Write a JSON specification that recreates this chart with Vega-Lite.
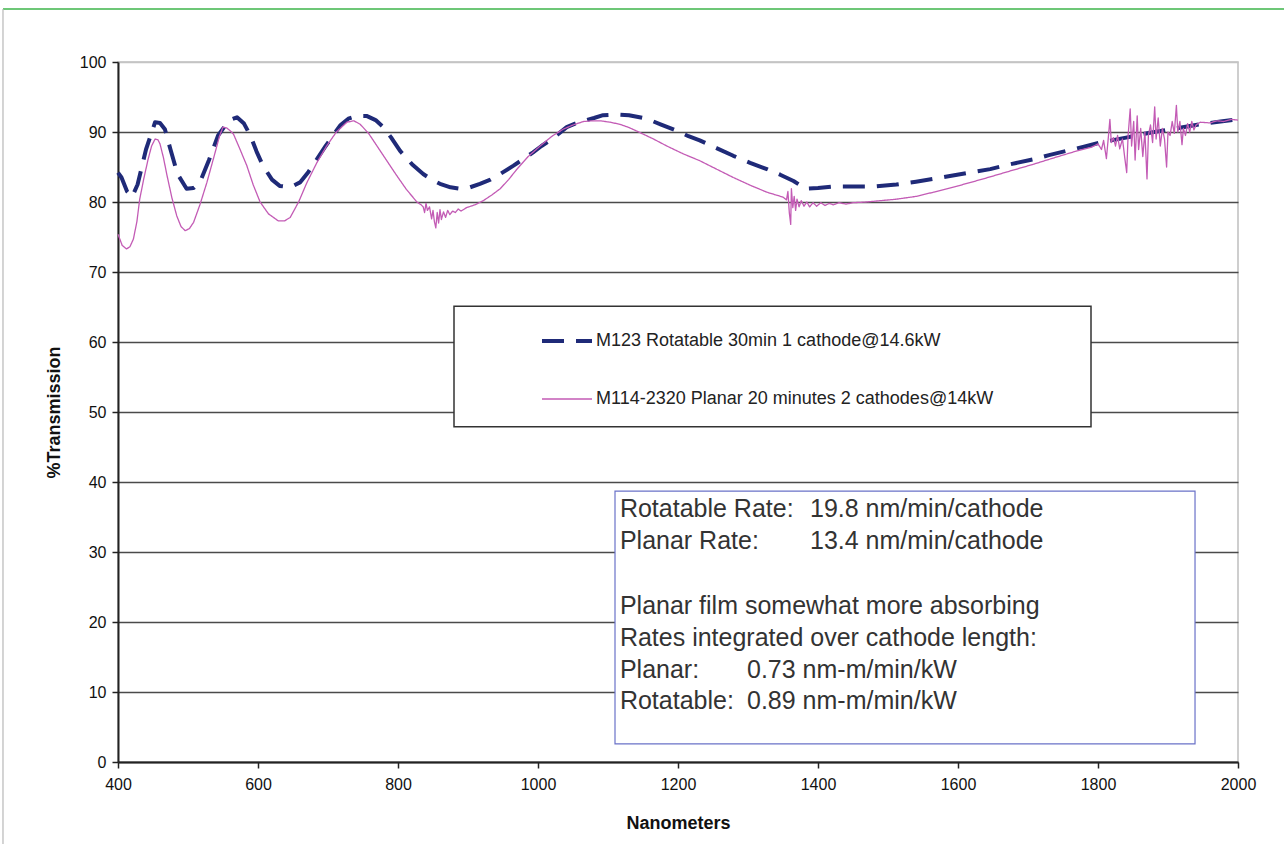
{
  "$schema": "https://vega.github.io/schema/vega-lite/v6.json",
  "width": 1120,
  "height": 700,
  "autosize": {"type": "none"},
  "padding": {"left": 118, "top": 62, "right": 46, "bottom": 82},
  "background": "white",
  "config": {
    "font": "Liberation Sans",
    "view": {"stroke": "#BFBFBF", "strokeWidth": 1.5},
    "axis": {
      "labelFont": "Liberation Sans", "labelFontSize": 16, "labelColor": "#111",
      "titleFont": "Liberation Sans", "titleFontSize": 18, "titleFontWeight": "bold", "titleColor": "#111",
      "domainColor": "#222", "domainWidth": 2, "tickColor": "#222", "tickWidth": 1.5, "tickSize": 6
    }
  },
  "datasets": {
    "spectra": [
      {"series":"M123 Rotatable 30min 1 cathode@14.6kW","nm":400,"T":84.2},
      {"series":"M123 Rotatable 30min 1 cathode@14.6kW","nm":405,"T":83.5},
      {"series":"M123 Rotatable 30min 1 cathode@14.6kW","nm":413,"T":81.5},
      {"series":"M123 Rotatable 30min 1 cathode@14.6kW","nm":420,"T":80.7},
      {"series":"M123 Rotatable 30min 1 cathode@14.6kW","nm":428,"T":82.5},
      {"series":"M123 Rotatable 30min 1 cathode@14.6kW","nm":440,"T":87.5},
      {"series":"M123 Rotatable 30min 1 cathode@14.6kW","nm":453,"T":91.4},
      {"series":"M123 Rotatable 30min 1 cathode@14.6kW","nm":460,"T":91.3},
      {"series":"M123 Rotatable 30min 1 cathode@14.6kW","nm":467,"T":90.4},
      {"series":"M123 Rotatable 30min 1 cathode@14.6kW","nm":475,"T":87.5},
      {"series":"M123 Rotatable 30min 1 cathode@14.6kW","nm":485,"T":84.0},
      {"series":"M123 Rotatable 30min 1 cathode@14.6kW","nm":498,"T":81.9},
      {"series":"M123 Rotatable 30min 1 cathode@14.6kW","nm":508,"T":82.0},
      {"series":"M123 Rotatable 30min 1 cathode@14.6kW","nm":517,"T":82.8},
      {"series":"M123 Rotatable 30min 1 cathode@14.6kW","nm":530,"T":86.0},
      {"series":"M123 Rotatable 30min 1 cathode@14.6kW","nm":543,"T":89.5},
      {"series":"M123 Rotatable 30min 1 cathode@14.6kW","nm":553,"T":90.9},
      {"series":"M123 Rotatable 30min 1 cathode@14.6kW","nm":562,"T":91.8},
      {"series":"M123 Rotatable 30min 1 cathode@14.6kW","nm":570,"T":92.1},
      {"series":"M123 Rotatable 30min 1 cathode@14.6kW","nm":580,"T":91.2},
      {"series":"M123 Rotatable 30min 1 cathode@14.6kW","nm":589,"T":89.5},
      {"series":"M123 Rotatable 30min 1 cathode@14.6kW","nm":598,"T":87.2},
      {"series":"M123 Rotatable 30min 1 cathode@14.6kW","nm":607,"T":85.2},
      {"series":"M123 Rotatable 30min 1 cathode@14.6kW","nm":620,"T":83.2},
      {"series":"M123 Rotatable 30min 1 cathode@14.6kW","nm":631,"T":82.3},
      {"series":"M123 Rotatable 30min 1 cathode@14.6kW","nm":646,"T":82.1},
      {"series":"M123 Rotatable 30min 1 cathode@14.6kW","nm":660,"T":82.8},
      {"series":"M123 Rotatable 30min 1 cathode@14.6kW","nm":672,"T":84.3},
      {"series":"M123 Rotatable 30min 1 cathode@14.6kW","nm":684,"T":86.1},
      {"series":"M123 Rotatable 30min 1 cathode@14.6kW","nm":696,"T":87.9},
      {"series":"M123 Rotatable 30min 1 cathode@14.6kW","nm":707,"T":89.5},
      {"series":"M123 Rotatable 30min 1 cathode@14.6kW","nm":718,"T":91.0},
      {"series":"M123 Rotatable 30min 1 cathode@14.6kW","nm":729,"T":91.9},
      {"series":"M123 Rotatable 30min 1 cathode@14.6kW","nm":742,"T":92.3},
      {"series":"M123 Rotatable 30min 1 cathode@14.6kW","nm":755,"T":92.3},
      {"series":"M123 Rotatable 30min 1 cathode@14.6kW","nm":768,"T":91.7},
      {"series":"M123 Rotatable 30min 1 cathode@14.6kW","nm":779,"T":90.7},
      {"series":"M123 Rotatable 30min 1 cathode@14.6kW","nm":791,"T":89.1},
      {"series":"M123 Rotatable 30min 1 cathode@14.6kW","nm":803,"T":87.3},
      {"series":"M123 Rotatable 30min 1 cathode@14.6kW","nm":820,"T":85.4},
      {"series":"M123 Rotatable 30min 1 cathode@14.6kW","nm":836,"T":84.0},
      {"series":"M123 Rotatable 30min 1 cathode@14.6kW","nm":848,"T":83.2},
      {"series":"M123 Rotatable 30min 1 cathode@14.6kW","nm":860,"T":82.6},
      {"series":"M123 Rotatable 30min 1 cathode@14.6kW","nm":875,"T":82.1},
      {"series":"M123 Rotatable 30min 1 cathode@14.6kW","nm":889,"T":81.9},
      {"series":"M123 Rotatable 30min 1 cathode@14.6kW","nm":903,"T":82.1},
      {"series":"M123 Rotatable 30min 1 cathode@14.6kW","nm":917,"T":82.6},
      {"series":"M123 Rotatable 30min 1 cathode@14.6kW","nm":932,"T":83.2},
      {"series":"M123 Rotatable 30min 1 cathode@14.6kW","nm":946,"T":84.0},
      {"series":"M123 Rotatable 30min 1 cathode@14.6kW","nm":965,"T":85.2},
      {"series":"M123 Rotatable 30min 1 cathode@14.6kW","nm":980,"T":86.2},
      {"series":"M123 Rotatable 30min 1 cathode@14.6kW","nm":993,"T":87.1},
      {"series":"M123 Rotatable 30min 1 cathode@14.6kW","nm":1005,"T":88.0},
      {"series":"M123 Rotatable 30min 1 cathode@14.6kW","nm":1017,"T":88.8},
      {"series":"M123 Rotatable 30min 1 cathode@14.6kW","nm":1030,"T":89.8},
      {"series":"M123 Rotatable 30min 1 cathode@14.6kW","nm":1041,"T":90.7},
      {"series":"M123 Rotatable 30min 1 cathode@14.6kW","nm":1053,"T":91.2},
      {"series":"M123 Rotatable 30min 1 cathode@14.6kW","nm":1065,"T":91.6},
      {"series":"M123 Rotatable 30min 1 cathode@14.6kW","nm":1080,"T":92.0},
      {"series":"M123 Rotatable 30min 1 cathode@14.6kW","nm":1093,"T":92.4},
      {"series":"M123 Rotatable 30min 1 cathode@14.6kW","nm":1112,"T":92.5},
      {"series":"M123 Rotatable 30min 1 cathode@14.6kW","nm":1130,"T":92.4},
      {"series":"M123 Rotatable 30min 1 cathode@14.6kW","nm":1155,"T":91.9},
      {"series":"M123 Rotatable 30min 1 cathode@14.6kW","nm":1175,"T":91.1},
      {"series":"M123 Rotatable 30min 1 cathode@14.6kW","nm":1198,"T":90.2},
      {"series":"M123 Rotatable 30min 1 cathode@14.6kW","nm":1215,"T":89.4},
      {"series":"M123 Rotatable 30min 1 cathode@14.6kW","nm":1231,"T":88.8},
      {"series":"M123 Rotatable 30min 1 cathode@14.6kW","nm":1255,"T":87.7},
      {"series":"M123 Rotatable 30min 1 cathode@14.6kW","nm":1279,"T":86.6},
      {"series":"M123 Rotatable 30min 1 cathode@14.6kW","nm":1303,"T":85.6},
      {"series":"M123 Rotatable 30min 1 cathode@14.6kW","nm":1327,"T":84.7},
      {"series":"M123 Rotatable 30min 1 cathode@14.6kW","nm":1346,"T":83.9},
      {"series":"M123 Rotatable 30min 1 cathode@14.6kW","nm":1365,"T":83.0},
      {"series":"M123 Rotatable 30min 1 cathode@14.6kW","nm":1373,"T":82.5},
      {"series":"M123 Rotatable 30min 1 cathode@14.6kW","nm":1381,"T":81.9},
      {"series":"M123 Rotatable 30min 1 cathode@14.6kW","nm":1400,"T":82.0},
      {"series":"M123 Rotatable 30min 1 cathode@14.6kW","nm":1422,"T":82.2},
      {"series":"M123 Rotatable 30min 1 cathode@14.6kW","nm":1450,"T":82.2},
      {"series":"M123 Rotatable 30min 1 cathode@14.6kW","nm":1479,"T":82.2},
      {"series":"M123 Rotatable 30min 1 cathode@14.6kW","nm":1512,"T":82.5},
      {"series":"M123 Rotatable 30min 1 cathode@14.6kW","nm":1540,"T":82.9},
      {"series":"M123 Rotatable 30min 1 cathode@14.6kW","nm":1565,"T":83.3},
      {"series":"M123 Rotatable 30min 1 cathode@14.6kW","nm":1605,"T":84.0},
      {"series":"M123 Rotatable 30min 1 cathode@14.6kW","nm":1646,"T":84.7},
      {"series":"M123 Rotatable 30min 1 cathode@14.6kW","nm":1675,"T":85.4},
      {"series":"M123 Rotatable 30min 1 cathode@14.6kW","nm":1708,"T":86.1},
      {"series":"M123 Rotatable 30min 1 cathode@14.6kW","nm":1730,"T":86.7},
      {"series":"M123 Rotatable 30min 1 cathode@14.6kW","nm":1755,"T":87.3},
      {"series":"M123 Rotatable 30min 1 cathode@14.6kW","nm":1780,"T":87.9},
      {"series":"M123 Rotatable 30min 1 cathode@14.6kW","nm":1803,"T":88.5},
      {"series":"M123 Rotatable 30min 1 cathode@14.6kW","nm":1840,"T":89.2},
      {"series":"M123 Rotatable 30min 1 cathode@14.6kW","nm":1874,"T":89.9},
      {"series":"M123 Rotatable 30min 1 cathode@14.6kW","nm":1910,"T":90.5},
      {"series":"M123 Rotatable 30min 1 cathode@14.6kW","nm":1946,"T":91.1},
      {"series":"M123 Rotatable 30min 1 cathode@14.6kW","nm":1975,"T":91.5},
      {"series":"M123 Rotatable 30min 1 cathode@14.6kW","nm":2000,"T":91.8},
      {"series":"M114-2320 Planar 20 minutes 2 cathodes@14kW","nm":400,"T":75.4},
      {"series":"M114-2320 Planar 20 minutes 2 cathodes@14kW","nm":406,"T":73.8},
      {"series":"M114-2320 Planar 20 minutes 2 cathodes@14kW","nm":412,"T":73.3},
      {"series":"M114-2320 Planar 20 minutes 2 cathodes@14kW","nm":417,"T":73.6},
      {"series":"M114-2320 Planar 20 minutes 2 cathodes@14kW","nm":422,"T":74.7},
      {"series":"M114-2320 Planar 20 minutes 2 cathodes@14kW","nm":427,"T":77.2},
      {"series":"M114-2320 Planar 20 minutes 2 cathodes@14kW","nm":431,"T":80.4},
      {"series":"M114-2320 Planar 20 minutes 2 cathodes@14kW","nm":437,"T":83.4},
      {"series":"M114-2320 Planar 20 minutes 2 cathodes@14kW","nm":443,"T":86.1},
      {"series":"M114-2320 Planar 20 minutes 2 cathodes@14kW","nm":448,"T":88.0},
      {"series":"M114-2320 Planar 20 minutes 2 cathodes@14kW","nm":453,"T":89.0},
      {"series":"M114-2320 Planar 20 minutes 2 cathodes@14kW","nm":457,"T":88.9},
      {"series":"M114-2320 Planar 20 minutes 2 cathodes@14kW","nm":460,"T":88.3},
      {"series":"M114-2320 Planar 20 minutes 2 cathodes@14kW","nm":465,"T":86.3},
      {"series":"M114-2320 Planar 20 minutes 2 cathodes@14kW","nm":470,"T":83.8},
      {"series":"M114-2320 Planar 20 minutes 2 cathodes@14kW","nm":477,"T":80.6},
      {"series":"M114-2320 Planar 20 minutes 2 cathodes@14kW","nm":484,"T":78.0},
      {"series":"M114-2320 Planar 20 minutes 2 cathodes@14kW","nm":490,"T":76.5},
      {"series":"M114-2320 Planar 20 minutes 2 cathodes@14kW","nm":496,"T":75.9},
      {"series":"M114-2320 Planar 20 minutes 2 cathodes@14kW","nm":502,"T":76.2},
      {"series":"M114-2320 Planar 20 minutes 2 cathodes@14kW","nm":508,"T":77.1},
      {"series":"M114-2320 Planar 20 minutes 2 cathodes@14kW","nm":517,"T":79.6},
      {"series":"M114-2320 Planar 20 minutes 2 cathodes@14kW","nm":527,"T":82.8},
      {"series":"M114-2320 Planar 20 minutes 2 cathodes@14kW","nm":538,"T":86.8},
      {"series":"M114-2320 Planar 20 minutes 2 cathodes@14kW","nm":545,"T":89.4},
      {"series":"M114-2320 Planar 20 minutes 2 cathodes@14kW","nm":550,"T":90.7},
      {"series":"M114-2320 Planar 20 minutes 2 cathodes@14kW","nm":555,"T":90.6},
      {"series":"M114-2320 Planar 20 minutes 2 cathodes@14kW","nm":560,"T":90.2},
      {"series":"M114-2320 Planar 20 minutes 2 cathodes@14kW","nm":565,"T":89.7},
      {"series":"M114-2320 Planar 20 minutes 2 cathodes@14kW","nm":574,"T":87.6},
      {"series":"M114-2320 Planar 20 minutes 2 cathodes@14kW","nm":584,"T":85.2},
      {"series":"M114-2320 Planar 20 minutes 2 cathodes@14kW","nm":593,"T":82.5},
      {"series":"M114-2320 Planar 20 minutes 2 cathodes@14kW","nm":603,"T":80.0},
      {"series":"M114-2320 Planar 20 minutes 2 cathodes@14kW","nm":615,"T":78.3},
      {"series":"M114-2320 Planar 20 minutes 2 cathodes@14kW","nm":629,"T":77.3},
      {"series":"M114-2320 Planar 20 minutes 2 cathodes@14kW","nm":638,"T":77.3},
      {"series":"M114-2320 Planar 20 minutes 2 cathodes@14kW","nm":646,"T":77.8},
      {"series":"M114-2320 Planar 20 minutes 2 cathodes@14kW","nm":658,"T":80.0},
      {"series":"M114-2320 Planar 20 minutes 2 cathodes@14kW","nm":670,"T":82.8},
      {"series":"M114-2320 Planar 20 minutes 2 cathodes@14kW","nm":684,"T":85.6},
      {"series":"M114-2320 Planar 20 minutes 2 cathodes@14kW","nm":698,"T":88.0},
      {"series":"M114-2320 Planar 20 minutes 2 cathodes@14kW","nm":712,"T":90.0},
      {"series":"M114-2320 Planar 20 minutes 2 cathodes@14kW","nm":727,"T":91.4},
      {"series":"M114-2320 Planar 20 minutes 2 cathodes@14kW","nm":737,"T":91.6},
      {"series":"M114-2320 Planar 20 minutes 2 cathodes@14kW","nm":746,"T":91.1},
      {"series":"M114-2320 Planar 20 minutes 2 cathodes@14kW","nm":758,"T":89.8},
      {"series":"M114-2320 Planar 20 minutes 2 cathodes@14kW","nm":770,"T":88.0},
      {"series":"M114-2320 Planar 20 minutes 2 cathodes@14kW","nm":784,"T":85.9},
      {"series":"M114-2320 Planar 20 minutes 2 cathodes@14kW","nm":798,"T":83.8},
      {"series":"M114-2320 Planar 20 minutes 2 cathodes@14kW","nm":812,"T":81.8},
      {"series":"M114-2320 Planar 20 minutes 2 cathodes@14kW","nm":827,"T":80.0},
      {"series":"M114-2320 Planar 20 minutes 2 cathodes@14kW","nm":833,"T":79.6},
      {"series":"M114-2320 Planar 20 minutes 2 cathodes@14kW","nm":836,"T":79.3},
      {"series":"M114-2320 Planar 20 minutes 2 cathodes@14kW","nm":838,"T":78.5},
      {"series":"M114-2320 Planar 20 minutes 2 cathodes@14kW","nm":840,"T":79.8},
      {"series":"M114-2320 Planar 20 minutes 2 cathodes@14kW","nm":842,"T":78.8},
      {"series":"M114-2320 Planar 20 minutes 2 cathodes@14kW","nm":845,"T":79.3},
      {"series":"M114-2320 Planar 20 minutes 2 cathodes@14kW","nm":848,"T":77.6},
      {"series":"M114-2320 Planar 20 minutes 2 cathodes@14kW","nm":850,"T":78.8},
      {"series":"M114-2320 Planar 20 minutes 2 cathodes@14kW","nm":852,"T":77.2},
      {"series":"M114-2320 Planar 20 minutes 2 cathodes@14kW","nm":854,"T":76.3},
      {"series":"M114-2320 Planar 20 minutes 2 cathodes@14kW","nm":856,"T":78.5},
      {"series":"M114-2320 Planar 20 minutes 2 cathodes@14kW","nm":858,"T":77.0},
      {"series":"M114-2320 Planar 20 minutes 2 cathodes@14kW","nm":860,"T":78.9},
      {"series":"M114-2320 Planar 20 minutes 2 cathodes@14kW","nm":862,"T":77.5},
      {"series":"M114-2320 Planar 20 minutes 2 cathodes@14kW","nm":865,"T":78.6},
      {"series":"M114-2320 Planar 20 minutes 2 cathodes@14kW","nm":868,"T":77.8},
      {"series":"M114-2320 Planar 20 minutes 2 cathodes@14kW","nm":871,"T":78.8},
      {"series":"M114-2320 Planar 20 minutes 2 cathodes@14kW","nm":874,"T":78.2},
      {"series":"M114-2320 Planar 20 minutes 2 cathodes@14kW","nm":878,"T":78.7},
      {"series":"M114-2320 Planar 20 minutes 2 cathodes@14kW","nm":882,"T":78.5},
      {"series":"M114-2320 Planar 20 minutes 2 cathodes@14kW","nm":886,"T":79.0},
      {"series":"M114-2320 Planar 20 minutes 2 cathodes@14kW","nm":890,"T":78.7},
      {"series":"M114-2320 Planar 20 minutes 2 cathodes@14kW","nm":898,"T":79.2},
      {"series":"M114-2320 Planar 20 minutes 2 cathodes@14kW","nm":910,"T":79.6},
      {"series":"M114-2320 Planar 20 minutes 2 cathodes@14kW","nm":922,"T":80.2},
      {"series":"M114-2320 Planar 20 minutes 2 cathodes@14kW","nm":934,"T":81.0},
      {"series":"M114-2320 Planar 20 minutes 2 cathodes@14kW","nm":946,"T":81.9},
      {"series":"M114-2320 Planar 20 minutes 2 cathodes@14kW","nm":958,"T":83.2},
      {"series":"M114-2320 Planar 20 minutes 2 cathodes@14kW","nm":970,"T":84.7},
      {"series":"M114-2320 Planar 20 minutes 2 cathodes@14kW","nm":986,"T":86.5},
      {"series":"M114-2320 Planar 20 minutes 2 cathodes@14kW","nm":1003,"T":88.0},
      {"series":"M114-2320 Planar 20 minutes 2 cathodes@14kW","nm":1020,"T":89.4},
      {"series":"M114-2320 Planar 20 minutes 2 cathodes@14kW","nm":1036,"T":90.4},
      {"series":"M114-2320 Planar 20 minutes 2 cathodes@14kW","nm":1050,"T":91.0},
      {"series":"M114-2320 Planar 20 minutes 2 cathodes@14kW","nm":1065,"T":91.5},
      {"series":"M114-2320 Planar 20 minutes 2 cathodes@14kW","nm":1077,"T":91.6},
      {"series":"M114-2320 Planar 20 minutes 2 cathodes@14kW","nm":1089,"T":91.6},
      {"series":"M114-2320 Planar 20 minutes 2 cathodes@14kW","nm":1103,"T":91.4},
      {"series":"M114-2320 Planar 20 minutes 2 cathodes@14kW","nm":1117,"T":91.1},
      {"series":"M114-2320 Planar 20 minutes 2 cathodes@14kW","nm":1131,"T":90.6},
      {"series":"M114-2320 Planar 20 minutes 2 cathodes@14kW","nm":1146,"T":89.9},
      {"series":"M114-2320 Planar 20 minutes 2 cathodes@14kW","nm":1165,"T":89.0},
      {"series":"M114-2320 Planar 20 minutes 2 cathodes@14kW","nm":1184,"T":88.0},
      {"series":"M114-2320 Planar 20 minutes 2 cathodes@14kW","nm":1207,"T":86.9},
      {"series":"M114-2320 Planar 20 minutes 2 cathodes@14kW","nm":1231,"T":85.9},
      {"series":"M114-2320 Planar 20 minutes 2 cathodes@14kW","nm":1255,"T":84.7},
      {"series":"M114-2320 Planar 20 minutes 2 cathodes@14kW","nm":1279,"T":83.5},
      {"series":"M114-2320 Planar 20 minutes 2 cathodes@14kW","nm":1303,"T":82.4},
      {"series":"M114-2320 Planar 20 minutes 2 cathodes@14kW","nm":1327,"T":81.4},
      {"series":"M114-2320 Planar 20 minutes 2 cathodes@14kW","nm":1340,"T":81.0},
      {"series":"M114-2320 Planar 20 minutes 2 cathodes@14kW","nm":1350,"T":80.7},
      {"series":"M114-2320 Planar 20 minutes 2 cathodes@14kW","nm":1355,"T":80.3},
      {"series":"M114-2320 Planar 20 minutes 2 cathodes@14kW","nm":1357,"T":81.5},
      {"series":"M114-2320 Planar 20 minutes 2 cathodes@14kW","nm":1359,"T":78.5},
      {"series":"M114-2320 Planar 20 minutes 2 cathodes@14kW","nm":1361,"T":76.8},
      {"series":"M114-2320 Planar 20 minutes 2 cathodes@14kW","nm":1362,"T":81.9},
      {"series":"M114-2320 Planar 20 minutes 2 cathodes@14kW","nm":1364,"T":79.2},
      {"series":"M114-2320 Planar 20 minutes 2 cathodes@14kW","nm":1366,"T":80.8},
      {"series":"M114-2320 Planar 20 minutes 2 cathodes@14kW","nm":1368,"T":78.8},
      {"series":"M114-2320 Planar 20 minutes 2 cathodes@14kW","nm":1370,"T":80.4},
      {"series":"M114-2320 Planar 20 minutes 2 cathodes@14kW","nm":1373,"T":79.3},
      {"series":"M114-2320 Planar 20 minutes 2 cathodes@14kW","nm":1376,"T":80.2},
      {"series":"M114-2320 Planar 20 minutes 2 cathodes@14kW","nm":1380,"T":79.4},
      {"series":"M114-2320 Planar 20 minutes 2 cathodes@14kW","nm":1384,"T":80.0},
      {"series":"M114-2320 Planar 20 minutes 2 cathodes@14kW","nm":1388,"T":79.3},
      {"series":"M114-2320 Planar 20 minutes 2 cathodes@14kW","nm":1393,"T":79.9},
      {"series":"M114-2320 Planar 20 minutes 2 cathodes@14kW","nm":1398,"T":79.4},
      {"series":"M114-2320 Planar 20 minutes 2 cathodes@14kW","nm":1404,"T":79.9},
      {"series":"M114-2320 Planar 20 minutes 2 cathodes@14kW","nm":1410,"T":79.5},
      {"series":"M114-2320 Planar 20 minutes 2 cathodes@14kW","nm":1416,"T":79.8},
      {"series":"M114-2320 Planar 20 minutes 2 cathodes@14kW","nm":1422,"T":79.6},
      {"series":"M114-2320 Planar 20 minutes 2 cathodes@14kW","nm":1430,"T":79.9},
      {"series":"M114-2320 Planar 20 minutes 2 cathodes@14kW","nm":1440,"T":79.7},
      {"series":"M114-2320 Planar 20 minutes 2 cathodes@14kW","nm":1450,"T":79.9},
      {"series":"M114-2320 Planar 20 minutes 2 cathodes@14kW","nm":1469,"T":80.0},
      {"series":"M114-2320 Planar 20 minutes 2 cathodes@14kW","nm":1490,"T":80.2},
      {"series":"M114-2320 Planar 20 minutes 2 cathodes@14kW","nm":1512,"T":80.4},
      {"series":"M114-2320 Planar 20 minutes 2 cathodes@14kW","nm":1540,"T":80.8},
      {"series":"M114-2320 Planar 20 minutes 2 cathodes@14kW","nm":1565,"T":81.4},
      {"series":"M114-2320 Planar 20 minutes 2 cathodes@14kW","nm":1600,"T":82.3},
      {"series":"M114-2320 Planar 20 minutes 2 cathodes@14kW","nm":1636,"T":83.3},
      {"series":"M114-2320 Planar 20 minutes 2 cathodes@14kW","nm":1670,"T":84.3},
      {"series":"M114-2320 Planar 20 minutes 2 cathodes@14kW","nm":1708,"T":85.4},
      {"series":"M114-2320 Planar 20 minutes 2 cathodes@14kW","nm":1740,"T":86.4},
      {"series":"M114-2320 Planar 20 minutes 2 cathodes@14kW","nm":1770,"T":87.3},
      {"series":"M114-2320 Planar 20 minutes 2 cathodes@14kW","nm":1790,"T":87.8},
      {"series":"M114-2320 Planar 20 minutes 2 cathodes@14kW","nm":1800,"T":88.3},
      {"series":"M114-2320 Planar 20 minutes 2 cathodes@14kW","nm":1805,"T":87.5},
      {"series":"M114-2320 Planar 20 minutes 2 cathodes@14kW","nm":1808,"T":88.8},
      {"series":"M114-2320 Planar 20 minutes 2 cathodes@14kW","nm":1812,"T":86.2},
      {"series":"M114-2320 Planar 20 minutes 2 cathodes@14kW","nm":1815,"T":89.5},
      {"series":"M114-2320 Planar 20 minutes 2 cathodes@14kW","nm":1817,"T":91.8},
      {"series":"M114-2320 Planar 20 minutes 2 cathodes@14kW","nm":1819,"T":88.5},
      {"series":"M114-2320 Planar 20 minutes 2 cathodes@14kW","nm":1822,"T":89.2},
      {"series":"M114-2320 Planar 20 minutes 2 cathodes@14kW","nm":1825,"T":88.0},
      {"series":"M114-2320 Planar 20 minutes 2 cathodes@14kW","nm":1828,"T":89.5},
      {"series":"M114-2320 Planar 20 minutes 2 cathodes@14kW","nm":1831,"T":87.6},
      {"series":"M114-2320 Planar 20 minutes 2 cathodes@14kW","nm":1835,"T":89.0},
      {"series":"M114-2320 Planar 20 minutes 2 cathodes@14kW","nm":1838,"T":86.5},
      {"series":"M114-2320 Planar 20 minutes 2 cathodes@14kW","nm":1841,"T":84.2},
      {"series":"M114-2320 Planar 20 minutes 2 cathodes@14kW","nm":1843,"T":89.5},
      {"series":"M114-2320 Planar 20 minutes 2 cathodes@14kW","nm":1846,"T":93.3},
      {"series":"M114-2320 Planar 20 minutes 2 cathodes@14kW","nm":1848,"T":88.0},
      {"series":"M114-2320 Planar 20 minutes 2 cathodes@14kW","nm":1851,"T":91.5},
      {"series":"M114-2320 Planar 20 minutes 2 cathodes@14kW","nm":1853,"T":86.0},
      {"series":"M114-2320 Planar 20 minutes 2 cathodes@14kW","nm":1856,"T":92.3},
      {"series":"M114-2320 Planar 20 minutes 2 cathodes@14kW","nm":1858,"T":87.5},
      {"series":"M114-2320 Planar 20 minutes 2 cathodes@14kW","nm":1861,"T":90.5},
      {"series":"M114-2320 Planar 20 minutes 2 cathodes@14kW","nm":1864,"T":86.5},
      {"series":"M114-2320 Planar 20 minutes 2 cathodes@14kW","nm":1867,"T":90.0},
      {"series":"M114-2320 Planar 20 minutes 2 cathodes@14kW","nm":1870,"T":83.3},
      {"series":"M114-2320 Planar 20 minutes 2 cathodes@14kW","nm":1872,"T":89.5},
      {"series":"M114-2320 Planar 20 minutes 2 cathodes@14kW","nm":1875,"T":91.0},
      {"series":"M114-2320 Planar 20 minutes 2 cathodes@14kW","nm":1878,"T":88.5},
      {"series":"M114-2320 Planar 20 minutes 2 cathodes@14kW","nm":1881,"T":93.6},
      {"series":"M114-2320 Planar 20 minutes 2 cathodes@14kW","nm":1883,"T":89.0},
      {"series":"M114-2320 Planar 20 minutes 2 cathodes@14kW","nm":1886,"T":92.0},
      {"series":"M114-2320 Planar 20 minutes 2 cathodes@14kW","nm":1889,"T":88.0},
      {"series":"M114-2320 Planar 20 minutes 2 cathodes@14kW","nm":1892,"T":90.5},
      {"series":"M114-2320 Planar 20 minutes 2 cathodes@14kW","nm":1895,"T":89.0},
      {"series":"M114-2320 Planar 20 minutes 2 cathodes@14kW","nm":1898,"T":85.0},
      {"series":"M114-2320 Planar 20 minutes 2 cathodes@14kW","nm":1900,"T":90.0},
      {"series":"M114-2320 Planar 20 minutes 2 cathodes@14kW","nm":1903,"T":89.5},
      {"series":"M114-2320 Planar 20 minutes 2 cathodes@14kW","nm":1906,"T":91.5},
      {"series":"M114-2320 Planar 20 minutes 2 cathodes@14kW","nm":1909,"T":89.8},
      {"series":"M114-2320 Planar 20 minutes 2 cathodes@14kW","nm":1912,"T":93.8},
      {"series":"M114-2320 Planar 20 minutes 2 cathodes@14kW","nm":1914,"T":90.0},
      {"series":"M114-2320 Planar 20 minutes 2 cathodes@14kW","nm":1917,"T":91.5},
      {"series":"M114-2320 Planar 20 minutes 2 cathodes@14kW","nm":1920,"T":88.2},
      {"series":"M114-2320 Planar 20 minutes 2 cathodes@14kW","nm":1922,"T":90.5},
      {"series":"M114-2320 Planar 20 minutes 2 cathodes@14kW","nm":1925,"T":89.5},
      {"series":"M114-2320 Planar 20 minutes 2 cathodes@14kW","nm":1928,"T":91.2},
      {"series":"M114-2320 Planar 20 minutes 2 cathodes@14kW","nm":1931,"T":90.0},
      {"series":"M114-2320 Planar 20 minutes 2 cathodes@14kW","nm":1934,"T":91.5},
      {"series":"M114-2320 Planar 20 minutes 2 cathodes@14kW","nm":1937,"T":90.3},
      {"series":"M114-2320 Planar 20 minutes 2 cathodes@14kW","nm":1940,"T":91.0},
      {"series":"M114-2320 Planar 20 minutes 2 cathodes@14kW","nm":1946,"T":91.4},
      {"series":"M114-2320 Planar 20 minutes 2 cathodes@14kW","nm":1960,"T":91.3},
      {"series":"M114-2320 Planar 20 minutes 2 cathodes@14kW","nm":1970,"T":91.6},
      {"series":"M114-2320 Planar 20 minutes 2 cathodes@14kW","nm":1980,"T":91.5},
      {"series":"M114-2320 Planar 20 minutes 2 cathodes@14kW","nm":1990,"T":91.8},
      {"series":"M114-2320 Planar 20 minutes 2 cathodes@14kW","nm":2000,"T":91.7}
    ]
  },
  "layer": [
    {
      "data": {"values": [{}]},
      "mark": {"type": "rule", "color": "#3DB54A", "strokeWidth": 1.5},
      "encoding": {"x": {"datum": 235.7}, "x2": {"datum": 2066}, "y": {"datum": 107.57}}
    },
    {
      "data": {"values": [{}]},
      "mark": {"type": "rule", "color": "#B8B8B8", "strokeWidth": 1.2},
      "encoding": {"x": {"datum": 235.7}, "y": {"datum": 107.57}, "y2": {"datum": -12}}
    },
    {
      "data": {"name": "spectra"},
      "transform": [{"filter": "datum.series === 'M123 Rotatable 30min 1 cathode@14.6kW'"}],
      "mark": {"type": "line", "strokeCap": "butt", "strokeJoin": "round", "strokeWidth": 4},
      "encoding": {
        "x": {"field": "nm", "type": "quantitative", "scale": {"domain": [400, 2000], "nice": false, "zero": false},
              "axis": {"title": "Nanometers", "format": "d", "values": [400, 600, 800, 1000, 1200, 1400, 1600, 1800, 2000], "grid": false, "labelFlush": false, "labelPadding": 8, "titlePadding": 22}},
        "y": {"field": "T", "type": "quantitative", "scale": {"domain": [0, 100], "nice": false},
              "axis": {"title": "%Transmission", "values": [0, 10, 20, 30, 40, 50, 60, 70, 80, 90, 100], "grid": true,
                       "gridColor": {"condition": {"test": "datum.value === 100", "value": "#C4C4C4"}, "value": "#4A4A4A"},
                       "gridWidth": 1.6, "labelPadding": 6, "titlePadding": 16}},
        "color": {"field": "series", "type": "nominal",
                  "scale": {"domain": ["M123 Rotatable 30min 1 cathode@14.6kW", "M114-2320 Planar 20 minutes 2 cathodes@14kW"], "range": ["#1F2A78", "#C35BB5"]},
                  "legend": {"orient": "none", "legendX": 440, "legendY": 270, "title": null, "symbolType": "stroke", "symbolSize": 2500,
                             "symbolStrokeWidth": 3,
                             "labelFont": "Liberation Sans", "labelFontSize": 18, "labelColor": "#222", "labelOffset": 20, "rowPadding": 40,
                             "padding": 0, "labelLimit": 700, "direction": "vertical",
                             "encode": {"symbols": {"update": {"strokeWidth": {"signal": "datum.value === 'M123 Rotatable 30min 1 cathode@14.6kW' ? 4 : 1.5"}}}}}},
        "strokeDash": {"field": "series", "type": "nominal",
                       "scale": {"domain": ["M123 Rotatable 30min 1 cathode@14.6kW", "M114-2320 Planar 20 minutes 2 cathodes@14kW"], "range": [[22, 12], [1, 0]]}}
      }
    },
    {
      "data": {"name": "spectra"},
      "transform": [{"filter": "datum.series === 'M114-2320 Planar 20 minutes 2 cathodes@14kW'"}],
      "mark": {"type": "line", "strokeJoin": "round", "strokeWidth": 1.3},
      "encoding": {
        "x": {"field": "nm", "type": "quantitative"},
        "y": {"field": "T", "type": "quantitative"},
        "color": {"field": "series", "type": "nominal"},
        "strokeDash": {"field": "series", "type": "nominal"}
      }
    },
    {
      "data": {"values": [{}]},
      "mark": {"type": "rect", "fill": "white", "stroke": "#333333", "strokeWidth": 1.5},
      "encoding": {"x": {"datum": 880}, "x2": {"datum": 1790}, "y": {"datum": 65.1}, "y2": {"datum": 47.9}}
    },
    {
      "data": {"values": [{}]},
      "mark": {"type": "rect", "fill": "white", "stroke": "#6A72C8", "strokeWidth": 1.2},
      "encoding": {"x": {"datum": 1110}, "x2": {"datum": 1938.6}, "y": {"datum": 38.7}, "y2": {"datum": 2.6}}
    },
    {
      "data": {"values": [{}]},
      "mark": {"type": "text", "align": "left", "baseline": "alphabetic", "fontSize": 25, "font": "Liberation Sans", "color": "#333333", "lineHeight": 31.8},
      "encoding": {"x": {"datum": 1117}, "y": {"datum": 34.93},
                   "text": {"value": ["Rotatable Rate:", "Planar Rate:"]}}
    },
    {
      "data": {"values": [{}]},
      "mark": {"type": "text", "align": "left", "baseline": "alphabetic", "fontSize": 25, "font": "Liberation Sans", "color": "#333333", "lineHeight": 31.8},
      "encoding": {"x": {"datum": 1117}, "y": {"datum": 21.15},
                   "text": {"value": ["Planar film somewhat more absorbing", "Rates integrated over cathode length:", "Planar:", "Rotatable:"]}}
    },
    {
      "data": {"values": [{}]},
      "mark": {"type": "text", "align": "left", "baseline": "alphabetic", "fontSize": 25, "font": "Liberation Sans", "color": "#333333", "lineHeight": 31.8},
      "encoding": {"x": {"datum": 1388.6}, "y": {"datum": 34.93},
                   "text": {"value": ["19.8 nm/min/cathode", "13.4 nm/min/cathode"]}}
    },
    {
      "data": {"values": [{}]},
      "mark": {"type": "text", "align": "left", "baseline": "alphabetic", "fontSize": 25, "font": "Liberation Sans", "color": "#333333", "lineHeight": 31.8},
      "encoding": {"x": {"datum": 1298.6}, "y": {"datum": 12.07},
                   "text": {"value": ["0.73 nm-m/min/kW", "0.89 nm-m/min/kW"]}}
    }
  ]
}
